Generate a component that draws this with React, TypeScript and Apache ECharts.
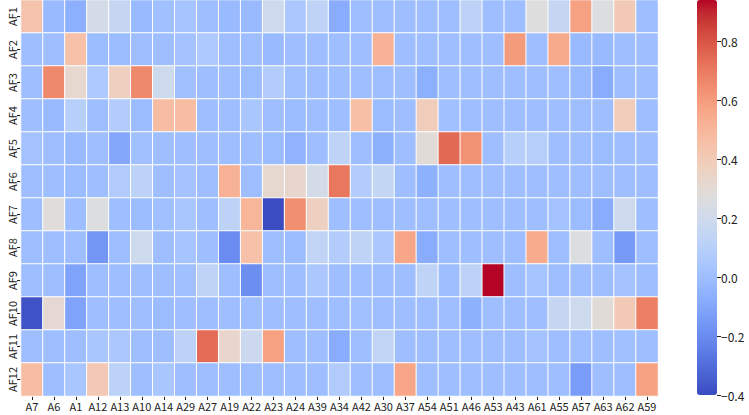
import React, { useEffect, useRef } from 'react'
import * as echarts from 'echarts'

// column and row labels
const columns = [
	'A7', 'A6', 'A1', 'A12', 'A13', 'A10', 'A14', 'A29', 'A27', 'A19',
	'A22', 'A23', 'A24', 'A39', 'A34', 'A42', 'A30', 'A37', 'A54', 'A51',
	'A46', 'A53', 'A43', 'A61', 'A55', 'A57', 'A63', 'A62', 'A59',
]
const rows = ['AF1', 'AF2', 'AF3', 'AF4', 'AF5', 'AF6', 'AF7', 'AF8', 'AF9', 'AF10', 'AF11', 'AF12']

// correlation values, one array per row (same order as columns)
const af1 = [0.44, -0.02, -0.07, 0.23, 0.16, -0.02, 0.01, 0.03, 0.0, -0.02, -0.02, 0.19, 0.05, 0.13, -0.08, 0.0, 0.0, 0.0, 0.0, 0.0, 0.12, 0.0, 0.0, 0.27, 0.16, 0.58, 0.26, 0.41, 0.0]
const af2 = [0.0, 0.0, 0.45, -0.01, -0.01, 0.0, 0.0, 0.02, 0.06, 0.0, 0.0, -0.02, 0.0, 0.0, 0.0, 0.0, 0.52, 0.0, 0.0, 0.0, 0.0, 0.0, 0.6, 0.0, 0.55, -0.02, -0.02, 0.0, 0.0]
const af3 = [0.0, 0.66, 0.32, 0.06, 0.37, 0.66, 0.19, 0.01, 0.0, 0.0, -0.01, 0.08, 0.01, 0.0, 0.0, 0.0, 0.0, 0.0, -0.07, 0.0, 0.0, 0.0, 0.0, 0.0, 0.0, -0.02, -0.08, 0.0, 0.0]
const af4 = [0.0, -0.02, 0.1, 0.0, 0.08, -0.01, 0.47, 0.47, 0.0, 0.0, 0.04, 0.0, -0.01, 0.0, 0.0, 0.46, -0.01, 0.0, 0.39, 0.01, 0.0, 0.0, 0.0, 0.0, 0.0, 0.0, 0.0, 0.39, 0.0]
const af5 = [0.02, 0.0, -0.02, 0.0, -0.1, 0.01, 0.0, 0.0, 0.0, 0.0, 0.0, -0.01, -0.05, 0.0, 0.13, 0.0, -0.06, 0.0, 0.29, 0.75, 0.63, 0.0, 0.1, 0.09, 0.0, 0.0, -0.01, 0.0, 0.0]
const af6 = [0.0, 0.0, -0.01, 0.0, 0.07, 0.12, 0.0, 0.02, 0.0, 0.52, 0.0, 0.32, 0.33, 0.22, 0.71, 0.08, 0.15, 0.0, -0.06, 0.0, 0.0, 0.0, 0.0, 0.0, 0.0, 0.0, 0.0, 0.0, 0.0]
const af7 = [0.0, 0.28, 0.0, 0.26, 0.0, -0.01, 0.01, 0.04, 0.0, 0.12, 0.5, -0.4, 0.64, 0.37, 0.0, 0.0, 0.0, 0.0, 0.0, 0.0, 0.0, 0.0, 0.0, 0.0, 0.02, -0.01, -0.08, 0.19, 0.0]
const af8 = [0.0, 0.0, 0.0, -0.16, 0.0, 0.19, 0.0, 0.03, 0.0, -0.2, 0.45, 0.0, -0.01, 0.14, 0.08, 0.13, 0.05, 0.56, -0.08, 0.0, 0.0, 0.0, 0.0, 0.54, 0.0, 0.26, 0.0, -0.15, 0.0]
const af9 = [0.0, 0.0, -0.12, 0.0, 0.0, 0.0, 0.0, 0.01, 0.13, 0.0, -0.19, 0.0, 0.0, 0.05, 0.0, 0.0, 0.0, 0.0, 0.13, 0.0, 0.12, 0.94, 0.0, 0.03, 0.0, 0.0, 0.0, 0.02, 0.0]
const af10 = [-0.38, 0.31, -0.12, 0.0, 0.0, 0.0, -0.01, 0.0, 0.0, 0.0, 0.0, 0.0, 0.0, 0.0, 0.0, 0.01, 0.0, 0.0, 0.0, 0.0, -0.06, 0.0, 0.0, 0.0, 0.16, 0.19, 0.29, 0.41, 0.69]
const af11 = [0.0, 0.0, 0.0, 0.04, 0.05, 0.0, 0.0, 0.12, 0.74, 0.33, 0.18, 0.58, 0.0, 0.0, -0.08, 0.0, 0.14, 0.0, 0.0, 0.0, 0.0, 0.0, 0.0, 0.02, 0.0, 0.0, 0.0, 0.01, 0.0]
const af12 = [0.47, 0.0, 0.04, 0.41, 0.12, 0.0, 0.04, 0.0, 0.0, 0.0, 0.0, 0.0, 0.0, 0.0, 0.07, 0.0, 0.0, 0.56, 0.0, 0.0, 0.0, 0.0, 0.0, 0.0, 0.0, -0.14, 0.0, 0.0, 0.58]

const matrix = [af1, af2, af3, af4, af5, af6, af7, af8, af9, af10, af11, af12]

// colour bar range and ticks
const vMin = -0.4
const vMax = 0.94
const barTicks = [-0.4, -0.2, 0.0, 0.2, 0.4, 0.6, 0.8]

// matplotlib "coolwarm"
const coolwarm = [
	'#3b4cc0', '#445acc', '#4d68d7', '#5775e1', '#6282ea', '#6c8ef1', '#779af7', '#82a5fb',
	'#8db0fe', '#98b9ff', '#a3c2ff', '#aec9fd', '#b8d0f9', '#c2d5f4', '#ccd9ee', '#d5dbe6',
	'#dddddd', '#e5d8d1', '#ecd3c5', '#f1ccb8', '#f5c4ac', '#f7bba0', '#f7b194', '#f7a687',
	'#f49a7b', '#f18d6f', '#ec7f63', '#e57058', '#de604d', '#d55042', '#cb3e38', '#c0282f',
	'#b40426',
]

const font = '"Noto Sans CJK SC", sans-serif'

const App = () => {
	const chartRef = useRef(null)

	useEffect(() => {
		document.body.style.margin = '0'
		const chart = echarts.init(chartRef.current, null, { renderer: 'svg' })

		const data = []
		matrix.forEach((row, r) => {
			row.forEach((v, c) => {
				data.push([c, r, v])
			})
		})

		chart.setOption({
			animation: false,
			grid: [
				{ left: 21, top: 0, width: 637, height: 396 },
				{ left: 697, top: 0, width: 20, height: 395 },
			],
			xAxis: [
				{
					type: 'category',
					data: columns,
					gridIndex: 0,
					axisLine: { show: false },
					axisTick: { show: true, alignWithLabel: true, length: 4, lineStyle: { color: '#222' } },
					axisLabel: { interval: 0, margin: 4, fontSize: 11, color: '#222', fontFamily: font },
					splitLine: { show: false },
				},
				{ type: 'category', data: [''], gridIndex: 1, show: false },
			],
			yAxis: [
				{
					type: 'category',
					data: rows,
					inverse: true,
					gridIndex: 0,
					axisLine: { show: false },
					axisTick: { show: true, alignWithLabel: true, length: 4, lineStyle: { color: '#222' } },
					axisLabel: { interval: 0, rotate: 90, margin: 4, fontSize: 11, color: '#222', fontFamily: font },
					splitLine: { show: false },
				},
				{
					type: 'value',
					gridIndex: 1,
					position: 'right',
					min: vMin,
					max: vMax,
					axisLine: { show: false },
					splitLine: { show: false },
					axisTick: { show: true, length: 4, customValues: barTicks, lineStyle: { color: '#222' } },
					axisLabel: {
						customValues: barTicks,
						margin: 4,
						fontSize: 12,
						color: '#222',
						fontFamily: font,
						formatter: (v) => v.toFixed(1).replace('-', '\u2212'),
					},
				},
			],
			visualMap: {
				type: 'continuous',
				min: vMin,
				max: vMax,
				seriesIndex: 0,
				calculable: false,
				hoverLink: false,
				orient: 'vertical',
				left: 697,
				top: 0,
				padding: 0,
				itemWidth: 20,
				itemHeight: 395,
				text: null,
				inRange: { color: coolwarm },
			},
			series: [
				{
					type: 'heatmap',
					xAxisIndex: 0,
					yAxisIndex: 0,
					data,
					itemStyle: { borderColor: '#ffffff', borderWidth: 1 },
				},
			],
		})

		return () => {
			chart.dispose()
		}
	}, [])

	return <div ref={chartRef} style={{ width: '749px', height: '415px' }} />
}

export default App
